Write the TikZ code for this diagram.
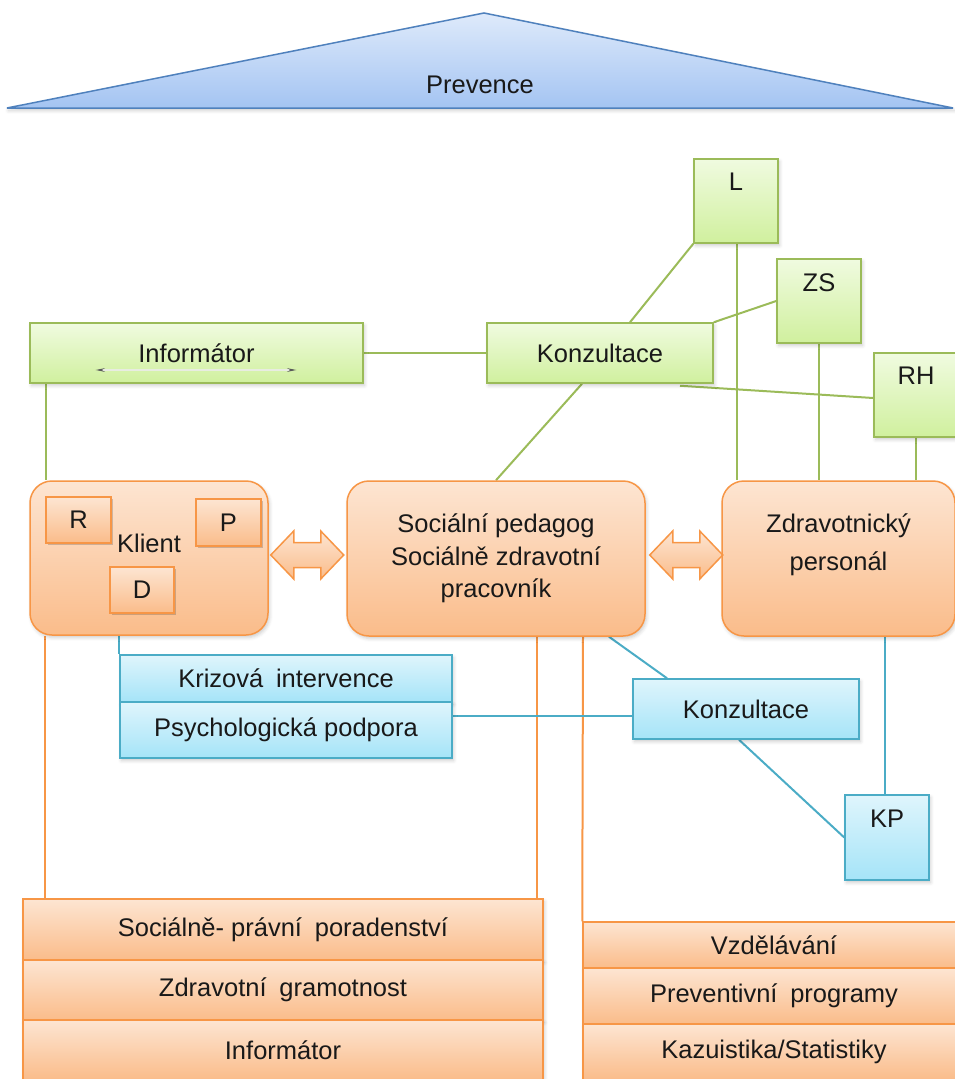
\documentclass[tikz,border=0pt]{standalone}
\usepackage{fontspec}
\setmainfont{Liberation Sans}
\usetikzlibrary{shadows,shadows.blur,arrows.meta,calc}
\pgfdeclarelayer{background}
\pgfsetlayers{background,main}

\definecolor{grn}{RGB}{155,187,89}
\definecolor{grnT}{RGB}{240,251,224}
\definecolor{grnB}{RGB}{208,240,158}
\definecolor{org}{RGB}{247,150,70}
\definecolor{orgT}{RGB}{253,229,210}
\definecolor{orgB}{RGB}{250,188,138}
\definecolor{blu}{RGB}{75,172,198}
\definecolor{bluT}{RGB}{223,245,252}
\definecolor{bluB}{RGB}{165,228,248}
\definecolor{tri}{RGB}{79,129,189}
\definecolor{triT}{RGB}{222,234,251}
\definecolor{triB}{RGB}{164,196,242}
\definecolor{txt}{RGB}{25,25,25}

\tikzset{
  shad/.style={blur shadow={shadow xshift=1.5pt, shadow yshift=-2.5pt,
      shadow blur radius=3.5pt, shadow opacity=20}},
  box/.style={rectangle, inner sep=0pt, line width=1.5pt, shad, text=txt},
  gbox/.style={box, draw=grn, top color=grnT, bottom color=grnB},
  obox/.style={box, draw=org, top color=orgT, bottom color=orgB},
  bbox/.style={box, draw=blu, top color=bluT, bottom color=bluB},
  tag/.style={rectangle, inner sep=0pt, line width=1.5pt, text=txt, draw=org,
      top color=orgT, bottom color=orgB,
      drop shadow={shadow xshift=1.5pt, shadow yshift=-2pt, opacity=0.18, fill=black}},
  role/.style={obox, rounded corners=22pt},
  gline/.style={draw=grn, line width=2pt},
  oline/.style={draw=org, line width=2pt},
  bline/.style={draw=blu, line width=2pt},
  toplabel/.style={anchor=north, inner sep=0pt, yshift=-15pt, text=txt},
  twoway/.style={top color=orgT, bottom color=orgB, draw=org, line width=1.5pt},
}

\begin{document}
\begin{tikzpicture}[x=1pt, y=-1pt, font=\fontsize{25.5}{30}\selectfont]
\useasboundingbox (0,0) rectangle (955,1079);
\clip (0,0) rectangle (955,1079);

% roof
\shade[shad, top color=triT, bottom color=triB, draw=tri, line width=1.5pt]
  (484,13) -- (953,108) -- (7,108) -- cycle;
\node[text=txt] (prev) at (480,85) {Prevence};

% green row
\node[gbox, minimum width=333pt, minimum height=60pt] (info) at (196.5,353) {Informátor};
\draw[line width=1.5pt, color={rgb,255:red,232;green,236;blue,225},
  {Stealth[length=9pt,width=3.5pt,color=gray!70!black]}-{Stealth[length=9pt,width=3.5pt,color=gray!70!black]}]
  ([xshift=-101pt,yshift=-17pt]info.center) -- ([xshift=100pt,yshift=-17pt]info.center);
\node[gbox, minimum width=226pt, minimum height=60pt] (konz) at (600,353) {Konzultace};
\node[gbox, minimum width=84pt, minimum height=84pt, label={[toplabel]north:L}] (L) at (736,201) {};
\node[gbox, minimum width=84pt, minimum height=84pt, label={[toplabel]north:ZS}] (zs) at (819,301) {};
\node[gbox, minimum width=84pt, minimum height=84pt, label={[toplabel]north:RH}] (rh) at (916,395) {};

% roles
\node[role, minimum width=238pt, minimum height=154pt,
  label={[text=txt, yshift=15pt]center:Klient}] (kl) at (149,558) {};
\node[tag, minimum width=65pt, minimum height=46pt] (R) at (78.5,520) {R};
\node[tag, minimum width=65pt, minimum height=47pt] (P) at (228.5,522.5) {P};
\node[tag, minimum width=64pt, minimum height=46pt] (D) at (142,590) {D};
\node[role, minimum width=298pt, minimum height=155pt, align=center,
  font=\fontsize{25.5}{32.5}\selectfont] (soc) at (496,558.5)
  {Sociální pedagog\\Sociálně zdravotní\\pracovník};
\node[role, minimum width=233pt, minimum height=155pt,
  label={[align=center, text=txt, yshift=14pt, font=\fontsize{25.5}{38}\selectfont]center:Zdravotnický\\personál}]
  (zp) at (838.5,558.5) {};

% two-way arrows between roles
\shade[twoway] ([xshift=2pt,yshift=3pt]kl.east) -- ++(23,-24) -- ++(0,11.5) -- ++(27,0)
  -- ++(0,-11.5) -- ++(23,24) -- ++(-23,24) -- ++(0,-11.5) -- ++(-27,0) -- ++(0,11.5) -- cycle;
\shade[twoway] ([xshift=4pt,yshift=3.5pt]soc.east) -- ++(23,-24) -- ++(0,11.5) -- ++(27,0)
  -- ++(0,-11.5) -- ++(23,24) -- ++(-23,24) -- ++(0,-11.5) -- ++(-27,0) -- ++(0,11.5) -- cycle;

% blue support
\node[bbox, minimum width=332pt, minimum height=47pt] (kriz) at (286,678.5) {Krizová\enspace intervence};
\node[bbox, minimum width=332pt, minimum height=56pt] (psych) at (286,730) {Psychologická podpora};
\node[bbox, minimum width=226pt, minimum height=60pt] (konzB) at (746,709) {Konzultace};
\node[bbox, minimum width=84pt, minimum height=85pt, label={[toplabel]north:KP}] (kp) at (887,837.5) {};

% bottom stacks
\node[obox, minimum width=520pt, minimum height=61pt] (sp) at (283,929.5) {Sociálně-\ právní\enspace poradenství};
\node[obox, minimum width=520pt, minimum height=60pt] (zg) at (283,990) {Zdravotní\enspace gramotnost};
\node[obox, minimum width=520pt, minimum height=60pt] (inf2) at (283,1050) {Informátor};
\node[obox, minimum width=382pt, minimum height=46pt] (vz) at (774,945) {Vzdělávání};
\node[obox, minimum width=382pt, minimum height=56pt] (pp) at (774,996) {Preventivní\enspace programy};
\node[obox, minimum width=382pt, minimum height=56pt] (ks) at (774,1052) {Kazuistika/Statistiky};

% connectors
\begin{pgfonlayer}{background}
  \draw[gline] (info.east) -- (konz.west);
  \draw[gline] ([xshift=17pt]info.south west) -- ([xshift=17pt]kl.north west);
  \draw[gline] (L.south west) -- ([xshift=30pt]konz.north);
  \draw[gline] ([xshift=1pt]L.south) -- ([xshift=1pt]L.south |- zp.north);
  \draw[gline] (zs.west) -- (konz.north east);
  \draw[gline] (zs.south) -- (zs.south |- zp.north);
  \draw[gline] ([yshift=-3pt]rh.west) -- ([xshift=80pt,yshift=-2pt]konz.south);
  \draw[gline] (rh.south) -- (rh.south |- zp.north);
  \draw[gline] ([xshift=-18pt]konz.south) -- (soc.north);
  \draw[oline] ([xshift=16pt]kl.south west) -- ([xshift=23pt]sp.north west);
  \draw[oline] ([xshift=41pt]soc.south) -- ([xshift=41pt]soc.south |- sp.north);
  \draw[oline] ([xshift=87pt]soc.south) -- (vz.north west);
  \draw[bline] (kriz.north west |- kl.south) -- (kriz.north west);
  \coordinate (kbl) at ([yshift=-7pt]konzB.west);
  \draw[bline] (psych.east |- kbl) -- (kbl);
  \draw[bline] ([xshift=113pt]soc.south) -- ([xshift=-79pt]konzB.north);
  \draw[bline] ([xshift=-7pt]konzB.south) -- (kp.west);
  \draw[bline] ([xshift=-2pt]kp.north |- zp.south) -- ([xshift=-2pt]kp.north);
\end{pgfonlayer}
\end{tikzpicture}
\end{document}
